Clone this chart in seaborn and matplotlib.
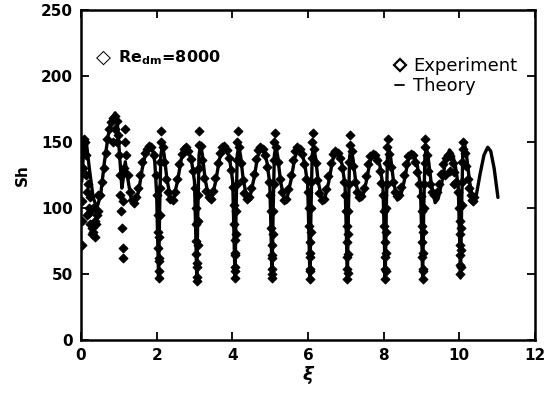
import numpy as np
import pandas as pd
import matplotlib
matplotlib.use("Agg")
import matplotlib.pyplot as plt
import seaborn as sns
from matplotlib.lines import Line2D

sns.set_theme(style="ticks")
plt.rcParams['font.family'] = ['DejaVu Sans']
plt.rcParams['text.color'] = 'black'
plt.rcParams['axes.labelcolor'] = 'black'
plt.rcParams['xtick.color'] = 'black'
plt.rcParams['ytick.color'] = 'black'

# theory curve
theory_xi = [
    0.02, 0.08, 0.14, 0.22, 0.32, 0.42, 0.52, 0.62, 0.72, 0.82, 0.90, 0.96, 1.02, 1.08, 1.13, 1.17, 1.22,
    1.32, 1.42, 1.52, 1.62, 1.72, 1.80, 1.88, 1.95, 2.00, 2.03, 2.05,
    2.08, 2.11, 2.15, 2.20, 2.27, 2.37, 2.45, 2.55, 2.65, 2.75, 2.83, 2.92, 3.00, 3.03, 3.06,
    3.09, 3.12, 3.16, 3.21, 3.28, 3.38, 3.46, 3.56, 3.66, 3.76, 3.84, 3.93, 4.01, 4.04, 4.07,
    4.10, 4.13, 4.17, 4.22, 4.29, 4.39, 4.47, 4.57, 4.67, 4.76, 4.84, 4.92, 4.99, 5.02, 5.05,
    5.08, 5.11, 5.15, 5.20, 5.27, 5.37, 5.45, 5.55, 5.65, 5.74, 5.82, 5.91, 5.99, 6.02, 6.05,
    6.08, 6.11, 6.15, 6.20, 6.27, 6.37, 6.45, 6.55, 6.65, 6.74, 6.82, 6.90, 6.98, 7.01, 7.04,
    7.07, 7.10, 7.14, 7.19, 7.26, 7.36, 7.44, 7.54, 7.64, 7.73, 7.81, 7.90, 7.98, 8.01, 8.04,
    8.07, 8.10, 8.14, 8.19, 8.26, 8.36, 8.44, 8.54, 8.64, 8.72, 8.80, 8.89, 8.97, 9.00, 9.03,
    9.06, 9.09, 9.13, 9.18, 9.26, 9.36, 9.44, 9.54, 9.64, 9.74, 9.82, 9.90, 9.97, 10.00, 10.03,
    10.06, 10.09, 10.14, 10.19, 10.27, 10.36, 10.45, 10.55, 10.65, 10.75, 10.83, 10.92, 11.02,
]
theory_sh = [
    120, 148, 150, 130, 108, 100, 110, 135, 155, 168, 172, 165, 140, 115, 125, 135, 125,
    108, 104, 112, 130, 143, 147, 146, 135, 110, 70, 47,
    100, 140, 147, 140, 122, 107, 108, 120, 137, 145, 144, 136, 120, 85, 47,
    100, 140, 148, 140, 122, 107, 108, 120, 137, 146, 145, 137, 120, 85, 47,
    100, 140, 147, 139, 121, 107, 109, 122, 139, 145, 143, 134, 118, 85, 47,
    100, 140, 147, 139, 121, 106, 108, 121, 138, 145, 143, 134, 118, 85, 47,
    100, 140, 146, 138, 120, 106, 108, 120, 136, 143, 141, 133, 117, 85, 47,
    100, 139, 145, 137, 120, 106, 108, 120, 135, 142, 140, 132, 117, 85, 47,
    100, 139, 145, 137, 120, 106, 108, 120, 135, 142, 140, 132, 117, 85, 47,
    100, 139, 146, 137, 118, 104, 107, 120, 136, 144, 141, 131, 117, 85, 47,
    100, 140, 148, 140, 120, 106, 110, 126, 140, 146, 143, 130, 108,
]

exp_xi = [
    0.02, 0.02, 0.03, 0.04, 0.05, 0.06, 0.08, 0.10, 0.12, 0.14, 0.15, 0.16, 0.18, 0.20, 0.22, 0.24, 0.25,
    0.28, 0.30, 0.32, 0.33, 0.36, 0.38, 0.40, 0.43, 0.44, 0.46, 0.50, 0.55, 0.60, 0.65, 0.70, 0.75, 0.80,
    0.85, 0.85, 0.90, 0.90, 0.94, 0.95, 0.98, 1.00, 1.02, 1.04, 1.06, 1.08, 1.10, 1.10, 1.12, 1.14, 1.15,
    1.16, 1.20, 1.25, 1.30, 1.35, 1.40, 1.45, 1.50, 1.56, 1.62, 1.68, 1.74, 1.80, 1.86, 1.92, 1.97,
    2.02, 2.03, 2.04, 2.04, 2.05, 2.05, 2.06, 2.07, 2.07, 2.08, 2.09, 2.10, 2.11, 2.12,
    2.16, 2.20, 2.25, 2.30, 2.36, 2.42, 2.48, 2.54, 2.60, 2.66, 2.72, 2.78, 2.84, 2.90, 2.95, 3.00,
    3.03, 3.04, 3.05, 3.05, 3.06, 3.06, 3.07, 3.07, 3.08, 3.09, 3.10, 3.11, 3.12, 3.13,
    3.17, 3.21, 3.26, 3.31, 3.37, 3.43, 3.49, 3.55, 3.61, 3.67, 3.73, 3.79, 3.85, 3.91, 3.96, 4.01,
    4.04, 4.05, 4.06, 4.06, 4.07, 4.07, 4.08, 4.08, 4.09, 4.10, 4.11, 4.12, 4.13, 4.14,
    4.18, 4.22, 4.27, 4.32, 4.38, 4.44, 4.50, 4.56, 4.62, 4.68, 4.74, 4.80, 4.86, 4.91, 4.96, 5.00,
    5.02, 5.03, 5.04, 5.04, 5.05, 5.05, 5.06, 5.06, 5.07, 5.08, 5.09, 5.10, 5.11, 5.12,
    5.16, 5.20, 5.25, 5.30, 5.36, 5.42, 5.48, 5.54, 5.60, 5.66, 5.72, 5.78, 5.84, 5.90, 5.95, 6.00,
    6.02, 6.03, 6.04, 6.04, 6.05, 6.05, 6.06, 6.06, 6.07, 6.08, 6.09, 6.10, 6.11, 6.12,
    6.16, 6.20, 6.25, 6.30, 6.36, 6.42, 6.48, 6.54, 6.60, 6.66, 6.72, 6.78, 6.84, 6.89, 6.94, 6.99,
    7.01, 7.02, 7.03, 7.03, 7.04, 7.04, 7.05, 7.05, 7.06, 7.07, 7.08, 7.09, 7.10, 7.11,
    7.15, 7.19, 7.24, 7.29, 7.35, 7.41, 7.47, 7.53, 7.59, 7.65, 7.71, 7.77, 7.83, 7.89, 7.94, 7.99,
    8.01, 8.02, 8.03, 8.03, 8.04, 8.04, 8.05, 8.05, 8.06, 8.07, 8.08, 8.09, 8.10, 8.11,
    8.15, 8.19, 8.24, 8.29, 8.35, 8.41, 8.47, 8.53, 8.59, 8.65, 8.71, 8.77, 8.83, 8.88, 8.93, 8.98,
    9.00, 9.01, 9.02, 9.02, 9.03, 9.03, 9.04, 9.04, 9.05, 9.06, 9.07, 9.08, 9.09, 9.10,
    9.14, 9.18, 9.23, 9.28, 9.34, 9.40, 9.46, 9.52, 9.58, 9.64, 9.70, 9.76, 9.82, 9.87, 9.92, 9.97,
    9.62, 9.75, 9.85,
    10.00, 10.01, 10.01, 10.02, 10.02, 10.03, 10.03, 10.04, 10.04, 10.05, 10.06, 10.07, 10.08, 10.09, 10.10,
    10.14, 10.18, 10.22, 10.26, 10.30, 10.34, 10.37, 10.40,
]
exp_sh = [
    72, 90, 105, 130, 150, 145, 152, 150, 140, 125, 95, 112, 118, 100, 96, 108, 88,
    85, 80, 100, 82, 90, 78, 88, 95, 110, 98, 110, 120, 130, 142, 152, 160, 165,
    168, 150, 170, 160, 166, 150, 155, 140, 125, 110, 98, 85, 70, 62, 105, 130, 150,
    160, 140, 125, 112, 106, 104, 108, 115, 125, 135, 142, 145, 147, 146, 140, 125,
    110, 95, 82, 70, 60, 52, 47, 62, 78, 95, 115, 135, 150, 158,
    146, 135, 122, 112, 107, 106, 112, 122, 133, 141, 145, 146, 143, 137, 128, 115,
    100, 88, 75, 65, 55, 48, 45, 58, 72, 90, 110, 130, 148, 158,
    147, 136, 123, 113, 108, 107, 113, 123, 134, 142, 146, 147, 144, 138, 129, 116,
    102, 88, 76, 64, 55, 47, 52, 66, 80, 98, 118, 136, 150, 158,
    146, 134, 121, 111, 107, 108, 115, 126, 137, 144, 146, 145, 140, 131, 120, 110,
    98, 85, 72, 62, 54, 47, 50, 64, 80, 98, 118, 136, 150, 157,
    146, 135, 122, 112, 106, 107, 114, 125, 136, 143, 146, 145, 141, 133, 122, 112,
    100, 86, 74, 63, 54, 46, 52, 66, 82, 100, 120, 138, 150, 157,
    145, 134, 121, 111, 106, 107, 114, 124, 134, 141, 143, 142, 138, 130, 120, 110,
    98, 86, 74, 63, 54, 46, 51, 65, 80, 98, 118, 135, 148, 155,
    143, 132, 120, 112, 108, 109, 115, 124, 133, 139, 141, 140, 136, 128, 119, 110,
    98, 86, 74, 63, 54, 46, 52, 66, 82, 100, 118, 134, 146, 152,
    141, 131, 120, 112, 109, 110, 116, 125, 133, 139, 141, 140, 135, 127, 118, 109,
    98, 86, 74, 63, 54, 46, 52, 66, 82, 100, 118, 134, 146, 152,
    140, 128, 118, 112, 110, 112, 118, 126, 133, 138, 140, 139, 134, 127, 120, 112,
    125, 128, 118,
    100, 90, 80, 72, 64, 57, 50, 55, 68, 85, 102, 120, 135, 145, 150,
    142, 132, 122, 115, 110, 106, 105, 108,
]

x_ticks = [0, 2, 4, 6, 8, 10, 12]
y_ticks = [0, 50, 100, 150, 200, 250]

theory_df = pd.DataFrame({'xi': theory_xi, 'Sh': theory_sh})
exp_df = pd.DataFrame({'xi': exp_xi, 'Sh': exp_sh})

fig = plt.figure(figsize=(5.51, 3.99), dpi=100)
ax = fig.add_axes([0.147, 0.148, 0.824, 0.827])

sns.lineplot(data=theory_df, x='xi', y='Sh', sort=False, estimator=None,
             color='black', linewidth=2.4, ax=ax, zorder=2)
sns.scatterplot(data=exp_df, x='xi', y='Sh', marker='D', s=20, color='black',
                edgecolor='black', linewidth=0.8, ax=ax, zorder=3)

ax.set_xlim(0, 12)
ax.set_ylim(0, 250)
ax.set_xticks(x_ticks)
ax.set_yticks(y_ticks)
ax.tick_params(direction='in', length=6, width=1.3, top=True, right=True,
               labelsize=11, pad=6)
for lab in ax.get_xticklabels() + ax.get_yticklabels():
    lab.set_fontweight('bold')
for sp in ax.spines.values():
    sp.set_linewidth(1.8)
    sp.set_color('black')

ax.set_xlabel('ξ', fontsize=13, fontweight='bold', fontstyle='italic', labelpad=2)
ax.set_ylabel('Sh', fontsize=11, fontweight='bold', labelpad=8)

ax.text(0.6, 214, '◇', fontsize=14, fontweight='bold', va='center', ha='center')
ax.text(0.98, 214, r'Re$_{\mathbf{dm}}$=8000', fontsize=11.5, fontweight='bold',
        va='center', ha='left')

handles = [
    Line2D([], [], marker='D', linestyle='none', markersize=6,
           markerfacecolor='white', markeredgecolor='black', markeredgewidth=1.6),
    Line2D([], [], color='black', linewidth=1.3),
]
ax.legend(handles, ['Experiment', 'Theory'], loc='upper right',
          bbox_to_anchor=(0.985, 0.89), frameon=False, fontsize=13,
          handlelength=0.5, handletextpad=0.5, labelspacing=0.1,
          borderaxespad=0.2, labelcolor='black')

fig.savefig('out.png', dpi=100)
